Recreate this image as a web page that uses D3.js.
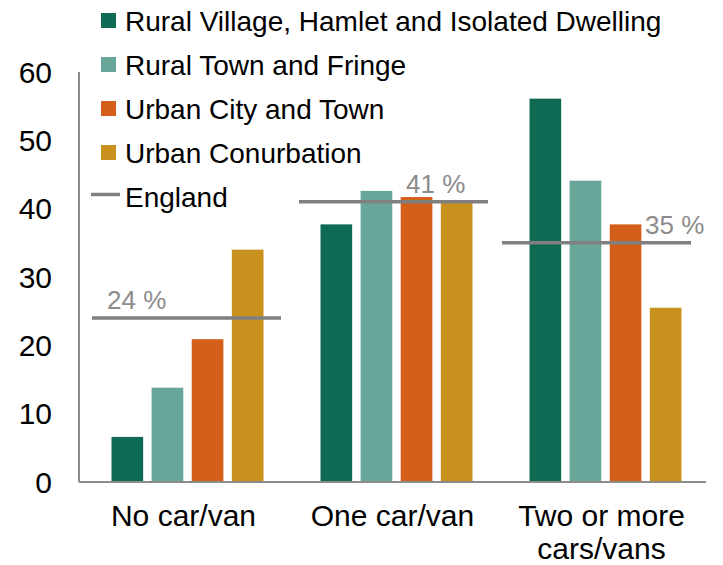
<!DOCTYPE html>
<html>
<head>
<meta charset="utf-8">
<script src="https://cdn.jsdelivr.net/npm/d3@7"></script>
<style>
  body { margin: 0; background: #fff; }
  text { font-family: "Liberation Sans", Arial, sans-serif; }
</style>
</head>
<body>
<div id="chart"></div>
<script>
const categories = [["No car/van"], ["One car/van"], ["Two or more", "cars/vans"]];
const seriesNames = [
  "Rural Village, Hamlet and Isolated Dwelling",
  "Rural Town and Fringe",
  "Urban City and Town",
  "Urban Conurbation"
];
const ruralVillage = [6.6, 37.7, 56.1];
const ruralTown = [13.8, 42.6, 44.1];
const urbanCity = [20.9, 41.7, 37.7];
const urbanConurbation = [34.0, 41.0, 25.5];
const england = [24, 41, 35];
const englandLabels = ["24 %", "41 %", "35 %"];
const yTicks = [0, 10, 20, 30, 40, 50, 60];

const colors = ["#0e6a53", "#67a699", "#d35f1b", "#c9911d"];
const series = [ruralVillage, ruralTown, urbanCity, urbanConurbation];

const width = 723, height = 565;
const margin = { top: 72, right: 17, bottom: 83, left: 79 };
const innerW = width - margin.left - margin.right;
const innerH = height - margin.top - margin.bottom;

const svg = d3.select("#chart").append("svg")
  .attr("width", width)
  .attr("height", height);

const g = svg.append("g")
  .attr("transform", "translate(" + margin.left + "," + margin.top + ")");

const x0 = d3.scaleBand()
  .domain(d3.range(categories.length))
  .range([0, innerW]);

const x1 = d3.scaleBand()
  .domain(d3.range(series.length))
  .range([0, 152])
  .paddingInner(8 / 38);

const y = d3.scaleLinear().domain([0, 60]).range([innerH, 0]);

// y tick labels
g.append("g")
  .selectAll("text")
  .data(yTicks)
  .join("text")
  .attr("x", -27)
  .attr("y", d => y(d))
  .attr("dy", "0.36em")
  .attr("text-anchor", "end")
  .attr("font-size", 30)
  .attr("fill", "#000")
  .text(d => d);

// bars
const groups = g.append("g")
  .selectAll("g")
  .data(categories)
  .join("g")
  .attr("transform", (d, i) => "translate(" + (x0(i) + (x0.bandwidth() - 144) / 2) + ",0)");

groups.selectAll("rect")
  .data((d, i) => series.map((s, k) => ({ k: k, v: s[i] })))
  .join("rect")
  .attr("x", d => x1(d.k))
  .attr("width", x1.bandwidth())
  .attr("y", d => y(d.v))
  .attr("height", d => innerH - y(d.v))
  .attr("fill", d => colors[d.k]);

// axes lines
g.append("line")
  .attr("x1", 0).attr("x2", 0)
  .attr("y1", 0).attr("y2", innerH)
  .attr("stroke", "#8c8c8c").attr("stroke-width", 2);
g.append("line")
  .attr("x1", 0).attr("x2", innerW)
  .attr("y1", innerH).attr("y2", innerH)
  .attr("stroke", "#8c8c8c").attr("stroke-width", 2);

// England lines
const lineW = 189;
const lineShift = [3, 1, -5];
const labelX = [15, 107, 143];
england.forEach((v, i) => {
  const xs = x0(i) + (x0.bandwidth() - lineW) / 2 + lineShift[i];
  g.append("line")
    .attr("x1", xs).attr("x2", xs + lineW)
    .attr("y1", y(v)).attr("y2", y(v))
    .attr("stroke", "#808080").attr("stroke-width", 3.5);
  g.append("text")
    .attr("x", xs + labelX[i])
    .attr("y", y(v) - 9)
    .attr("font-size", 26)
    .attr("fill", "#8c8c8c")
    .text(englandLabels[i]);
});

// category labels
const xl = g.append("g").attr("transform", "translate(0," + innerH + ")");
categories.forEach((lines, i) => {
  const t = xl.append("text")
    .attr("x", x0(i) + x0.bandwidth() / 2)
    .attr("y", 44)
    .attr("text-anchor", "middle")
    .attr("font-size", 30)
    .attr("fill", "#000");
  lines.forEach((ln, j) => {
    t.append("tspan")
      .attr("x", x0(i) + x0.bandwidth() / 2)
      .attr("dy", j === 0 ? 0 : 33)
      .text(ln);
  });
});

// legend
const legend = svg.append("g").attr("transform", "translate(101,20.5)");
const legendItems = seriesNames.map((n, k) => ({ name: n, color: colors[k], type: "rect" }))
  .concat([{ name: "England", color: "#808080", type: "line" }]);
const row = legend.selectAll("g")
  .data(legendItems)
  .join("g")
  .attr("transform", (d, i) => "translate(0," + (i * 44) + ")");
row.filter(d => d.type === "rect").append("rect")
  .attr("x", 0).attr("y", -7.5)
  .attr("width", 15).attr("height", 15)
  .attr("fill", d => d.color);
row.filter(d => d.type === "line").append("line")
  .attr("x1", -10).attr("x2", 19)
  .attr("y1", -2).attr("y2", -2)
  .attr("stroke", d => d.color).attr("stroke-width", 3.5);
row.append("text")
  .attr("x", 24)
  .attr("dy", "0.36em")
  .attr("font-size", 28)
  .attr("fill", "#000")
  .text(d => d.name);
</script>
</body>
</html>
